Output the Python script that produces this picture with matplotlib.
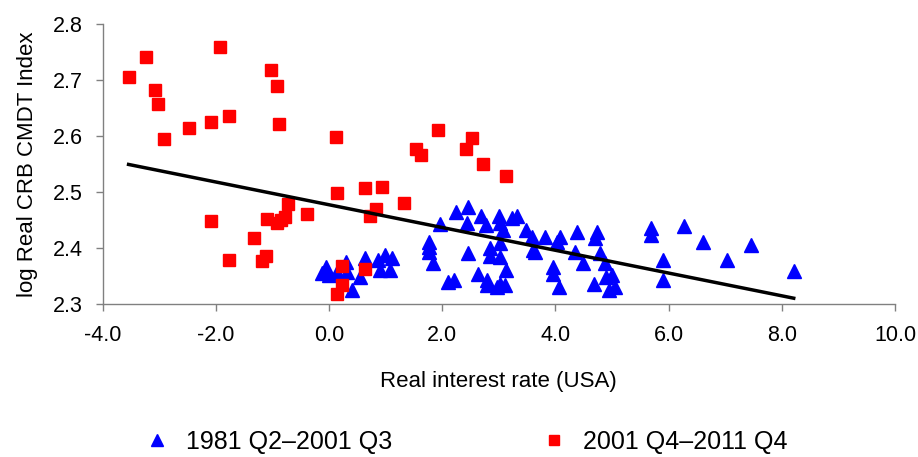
import matplotlib
matplotlib.use("Agg")
import matplotlib.pyplot as plt
import numpy as np
from matplotlib.ticker import FormatStrFormatter, MultipleLocator

plt.rcParams['font.family'] = ['Liberation Sans', 'DejaVu Sans']
plt.rcParams['axes.unicode_minus'] = False

# 1981 Q2 - 2001 Q3 (blue triangles)
blue_x = [-0.06, -0.12, 0.0, 0.14, 0.30, 0.31, 0.40, 0.55, 0.64, 0.87, 0.99, 1.11, 0.90, 1.08,
          2.25, 2.45, 1.96, 2.44, 2.69, 2.78, 3.01, 3.02, 3.23, 3.32, 3.08, 3.48,
          1.76, 1.76, 1.83, 1.76, 2.46, 2.84, 2.84, 3.02, 3.02, 3.61, 2.11, 2.20, 2.64, 2.79,
          2.79, 3.02, 3.13, 3.11, 2.96,
          3.58, 3.82, 3.64, 4.08, 4.02, 4.38, 4.35, 4.49, 4.73, 4.70, 4.79, 4.88, 3.95, 3.95,
          4.07, 4.69, 4.90, 5.00, 4.94, 5.05,
          5.69, 5.69, 6.28, 6.60, 7.46, 5.90, 7.03, 8.21, 5.90]
blue_y = [2.367, 2.356, 2.353, 2.358, 2.376, 2.358, 2.326, 2.349, 2.382, 2.379, 2.388, 2.382, 2.361, 2.361,
          2.465, 2.474, 2.444, 2.446, 2.457, 2.442, 2.458, 2.445, 2.454, 2.457, 2.433, 2.433,
          2.412, 2.394, 2.373, 2.403, 2.391, 2.400, 2.386, 2.409, 2.385, 2.397, 2.340, 2.343, 2.355, 2.343,
          2.334, 2.337, 2.361, 2.334, 2.331,
          2.421, 2.421, 2.394, 2.421, 2.412, 2.430, 2.394, 2.373, 2.430, 2.418, 2.391, 2.373, 2.367, 2.355,
          2.331, 2.337, 2.349, 2.352, 2.326, 2.331,
          2.436, 2.424, 2.439, 2.412, 2.406, 2.380, 2.380, 2.360, 2.343]

# 2001 Q4 - 2011 Q4 (red squares)
red_x = [-3.54, -3.23, -3.08, -3.02, -2.91, -2.48, -2.09, -1.92, -1.77, -1.03, -0.92, -0.89,
         -2.09, -1.77, -1.32, -1.18, -1.12, -1.09, -0.92, -0.77, -0.72, -0.38, -0.85,
         0.13, 1.93, 1.54, 1.62, 2.53, 2.42, 2.72, 3.13, 0.14, 0.63, 0.94, 1.33, 0.83, 0.73,
         0.23, 0.63, 0.23, 0.14]
red_y = [2.705, 2.741, 2.683, 2.657, 2.596, 2.614, 2.625, 2.760, 2.637, 2.718, 2.689, 2.622,
         2.449, 2.380, 2.418, 2.377, 2.386, 2.452, 2.446, 2.456, 2.479, 2.461, 2.450,
         2.599, 2.611, 2.577, 2.566, 2.597, 2.577, 2.550, 2.529, 2.499, 2.507, 2.510, 2.481, 2.470, 2.458,
         2.369, 2.363, 2.334, 2.319]

trend_slope = -0.02032
trend_intercept = 2.4778

label_blue = "1981 Q2\u20132001 Q3"
label_red = "2001 Q4\u20132011 Q4"

fig = plt.figure(figsize=(9.18, 4.57), dpi=100)
ax = fig.add_axes([0.1117, 0.334, 0.975 - 0.1117, 0.947 - 0.334])

ax.plot(blue_x, blue_y, linestyle='none', marker='^', markersize=10, color='#0000FF',
        markeredgecolor='#0000FF', label=label_blue, zorder=3)
ax.plot(red_x, red_y, linestyle='none', marker='s', markersize=9, color='#FF0000',
        markeredgecolor='#FF0000', label=label_red, zorder=4)

all_x = np.array(blue_x + red_x)
tx = np.array([all_x.min(), all_x.max()])
ax.plot(tx, trend_intercept + trend_slope * tx, color='black', linewidth=2.5, zorder=5)

ax.set_xlim(-4, 10)
ax.set_ylim(2.3, 2.8)
ax.xaxis.set_major_locator(MultipleLocator(2))
ax.yaxis.set_major_locator(MultipleLocator(0.1))
ax.xaxis.set_major_formatter(FormatStrFormatter('%.1f'))
ax.yaxis.set_major_formatter(FormatStrFormatter('%.1f'))

for s in ['top', 'right']:
    ax.spines[s].set_visible(False)
for s in ['left', 'bottom']:
    ax.spines[s].set_color('#808080')
    ax.spines[s].set_linewidth(1.0)
ax.tick_params(axis='both', direction='out', length=5, width=1, color='#808080',
               labelsize=15.5, labelcolor='black')
ax.tick_params(axis='x', pad=10)
ax.tick_params(axis='y', pad=9)

ax.set_xlabel('Real interest rate (USA)', fontsize=16, labelpad=18)
ax.set_ylabel('log Real CRB CMDT Index', fontsize=16, labelpad=11)

fig.legend(loc='center', bbox_to_anchor=(466 / 918, 1 - 442 / 457), ncol=2, frameon=False,
           fontsize=18, columnspacing=6.0, handletextpad=0.66, handlelength=1.0,
           markerscale=0.85, borderpad=0, borderaxespad=0)

fig.savefig('out.png', dpi=100)
